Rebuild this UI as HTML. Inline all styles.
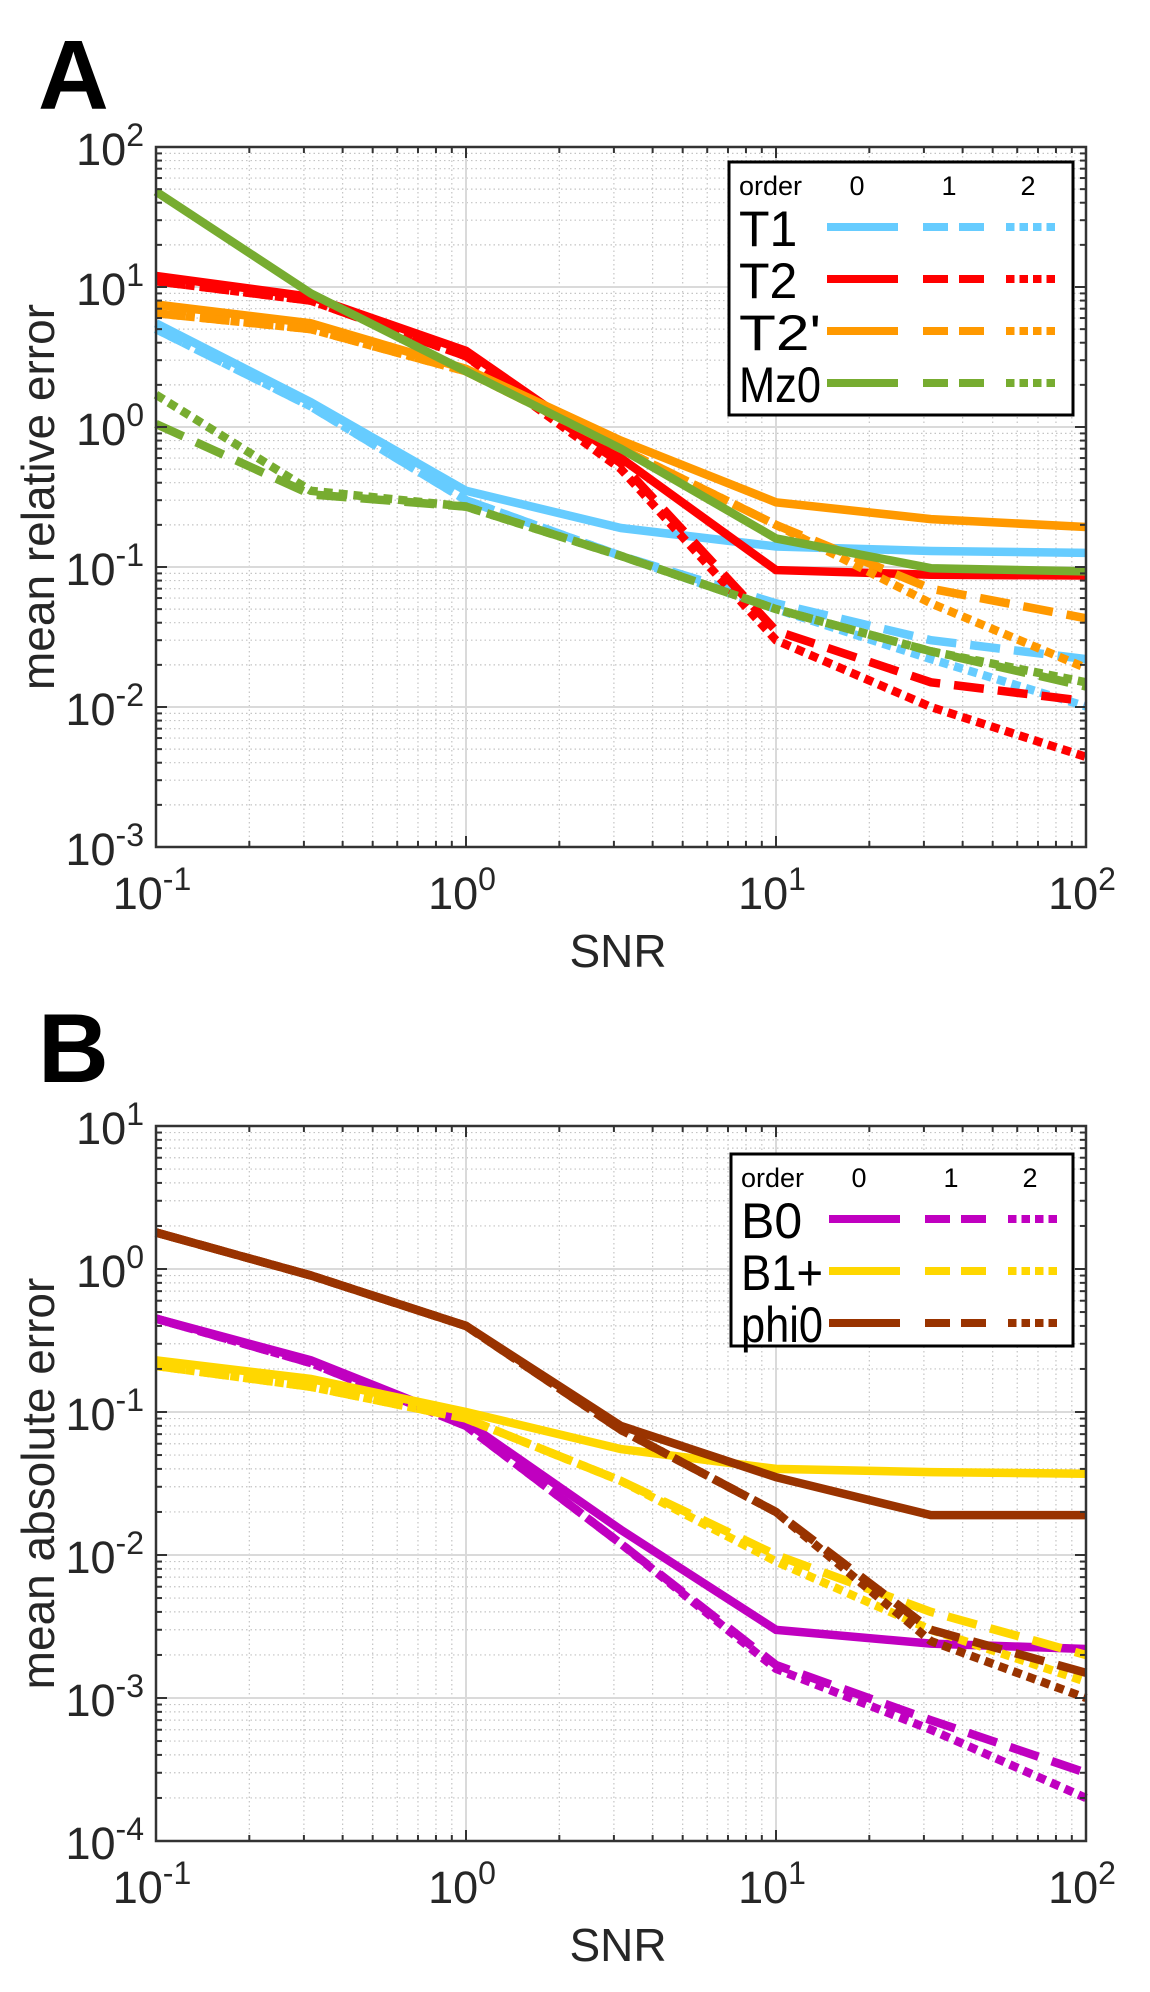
<!DOCTYPE html>
<html><head><meta charset="utf-8">
<style>
html,body{margin:0;padding:0;background:#fff;}
svg{display:block;font-family:"Liberation Sans",Arial,sans-serif;}
</style></head>
<body>
<svg id="fig" width="1150" height="1992" viewBox="0 0 1150 1992" xmlns="http://www.w3.org/2000/svg"></svg>
<script>
// ---- data ----
const snr = [0.1, 0.316, 1, 3.16, 10, 31.6, 100];
// Panel A series (order 0,1,2)
const T1_o0 = [5.5, 1.5, 0.35, 0.19, 0.14, 0.13, 0.126];
const T1_o1 = [5.0, 1.4, 0.30, 0.12, 0.055, 0.030, 0.022];
const T1_o2 = [5.0, 1.4, 0.30, 0.12, 0.050, 0.022, 0.0101];
const T2_o0 = [12, 8.5, 3.5, 0.6, 0.095, 0.088, 0.087];
const T2_o1 = [11, 8.0, 3.2, 0.55, 0.035, 0.015, 0.011];
const T2_o2 = [11, 8.0, 3.2, 0.50, 0.030, 0.010, 0.0044];
const T2p_o0 = [7.5, 5.5, 2.6, 0.8, 0.29, 0.22, 0.193];
const T2p_o1 = [6.5, 5.0, 2.5, 0.7, 0.20, 0.07, 0.043];
const T2p_o2 = [6.5, 5.0, 2.5, 0.7, 0.20, 0.055, 0.019];
const Mz0_o0 = [48, 9, 2.5, 0.7, 0.16, 0.098, 0.093];
const Mz0_o1 = [1.05, 0.33, 0.27, 0.12, 0.05, 0.025, 0.014];
const Mz0_o2 = [1.7, 0.35, 0.27, 0.12, 0.05, 0.025, 0.015];
// Panel B series
const B0_o0 = [0.45, 0.23, 0.085, 0.015, 0.003, 0.0024, 0.0022];
const B0_o1 = [0.45, 0.22, 0.08, 0.012, 0.0017, 0.0007, 0.0003];
const B0_o2 = [0.45, 0.22, 0.08, 0.012, 0.0016, 0.0006, 0.0002];
const B1_o0 = [0.23, 0.17, 0.10, 0.055, 0.040, 0.038, 0.037];
const B1_o1 = [0.21, 0.15, 0.09, 0.033, 0.010, 0.004, 0.002];
const B1_o2 = [0.21, 0.15, 0.09, 0.033, 0.009, 0.003, 0.0013];
const phi_o0 = [1.8, 0.9, 0.4, 0.08, 0.035, 0.019, 0.019];
const phi_o1 = [1.8, 0.9, 0.4, 0.075, 0.020, 0.003, 0.0015];
const phi_o2 = [1.8, 0.9, 0.4, 0.075, 0.020, 0.0025, 0.001];
const xTickExp = [-1, 0, 1, 2];
const yTickExpA = [2, 1, 0, -1, -2, -3];
const yTickExpB = [1, 0, -1, -2, -3, -4];
const seriesNamesA = ['T1', 'T2', "T2'", 'Mz0'];
const seriesNamesB = ['B0', 'B1+', 'phi0'];

const NS = 'http://www.w3.org/2000/svg';
const svg = document.getElementById('fig');
function el(tag, attrs, parent) {
  const e = document.createElementNS(NS, tag);
  for (const k in attrs) e.setAttribute(k, attrs[k]);
  (parent || svg).appendChild(e);
  return e;
}
const dashes = ['none', '30 14', '9 6'];
const LW = 8.5;

function panel(cfg) {
  const g = el('g', {});
  
  
  const L = cfg.L, R = cfg.R, T = cfg.T, B = cfg.B;
  const xmin = -1, xmax = 2, ymax = cfg.ymaxExp, ymin = cfg.yminExp;
  const xs = v => L + (Math.log10(v) - xmin) / (xmax - xmin) * (R - L);
  const ys = v => T + (ymax - Math.log10(v)) / (ymax - ymin) * (B - T);
  const grid = el('g', {}, g);
  
  
  for (let e = xmin; e < xmax; e++) for (let m = 2; m <= 9; m++) {
    const x = xs(m * Math.pow(10, e));
    el('line', {x1: x, x2: x, y1: T, y2: B, stroke: '#c4c4c4', 'stroke-width': 1.2, 'stroke-dasharray': '1.5 3'}, grid);
  }
  for (let e = ymin; e < ymax; e++) for (let m = 2; m <= 9; m++) {
    const y = ys(m * Math.pow(10, e));
    el('line', {x1: L, x2: R, y1: y, y2: y, stroke: '#c4c4c4', 'stroke-width': 1.2, 'stroke-dasharray': '1.5 3'}, grid);
  }
  for (let e = xmin + 1; e < xmax; e++) { const x = xs(Math.pow(10, e)); el('line', {x1: x, x2: x, y1: T, y2: B, stroke: '#dadada', 'stroke-width': 2}, grid); }
  for (let e = ymin + 1; e < ymax; e++) { const y = ys(Math.pow(10, e)); el('line', {x1: L, x2: R, y1: y, y2: y, stroke: '#dadada', 'stroke-width': 2}, grid); }
  cfg.series.forEach((s, si) => {
    s.data.forEach((arr, oi) => {
      const pts = arr.map((v, i) => xs(snr[i]).toFixed(1) + ',' + ys(v).toFixed(1)).join(' ');
      const p = el('polyline', {points: pts, fill: 'none', stroke: s.color, 'stroke-width': LW, 'stroke-dasharray': dashes[oi], 'stroke-linejoin': 'miter'}, g);
      
      
    });
  });
  const ax = el('g', {}, g);
  
  
  for (let e = xmin; e <= xmax; e++) {
    for (let m = 1; m <= 9; m++) {
      if (e === xmax && m > 1) break;
      const x = xs(m * Math.pow(10, e)); const len = m === 1 ? 11 : 6;
      el('line', {x1: x, x2: x, y1: B, y2: B - len, stroke: '#333', 'stroke-width': 2}, ax);
      el('line', {x1: x, x2: x, y1: T, y2: T + len, stroke: '#333', 'stroke-width': 2}, ax);
    }
  }
  for (let e = ymin; e <= ymax; e++) {
    for (let m = 1; m <= 9; m++) {
      if (e === ymax && m > 1) break;
      const y = ys(m * Math.pow(10, e)); const len = m === 1 ? 11 : 6;
      el('line', {x1: L, x2: L + len, y1: y, y2: y, stroke: '#333', 'stroke-width': 2}, ax);
      el('line', {x1: R, x2: R - len, y1: y, y2: y, stroke: '#333', 'stroke-width': 2}, ax);
    }
  }
  el('rect', {x: L, y: T, width: R - L, height: B - T, fill: 'none', stroke: '#333', 'stroke-width': 2.5}, ax);
  xTickExp.forEach(e => {
    const t = el('text', {x: xs(Math.pow(10, e)) - 4, y: B + 62, 'font-size': 45, fill: '#262626', 'text-anchor': 'middle'}, ax);
    
    
    t.appendChild(document.createTextNode('10'));
    const s = el('tspan', {dy: -19, 'font-size': 32}, t); s.textContent = String(e);
  });
  cfg.yTicks.forEach(e => {
    const t = el('text', {x: L - 12, y: ys(Math.pow(10, e)) + 18, 'font-size': 45, fill: '#262626', 'text-anchor': 'end'}, ax);
    
    
    t.appendChild(document.createTextNode('10'));
    const s = el('tspan', {dy: -19, 'font-size': 32}, t); s.textContent = String(e);
  });
  const xl = el('text', {x: (L + R) / 2 - 3, y: B + 120, 'font-size': 46, fill: '#262626', 'text-anchor': 'middle'}, g);
  
  
  xl.textContent = 'SNR';
  const cy = (T + B) / 2;
  const yl = el('text', {x: 54, y: cy, 'font-size': 46, fill: '#262626', 'text-anchor': 'middle', transform: 'rotate(-90 54 ' + cy + ')'}, g);
  
  
  yl.textContent = cfg.ylabel;
  const pl = el('text', {x: 38, y: cfg.letterY, 'font-size': 98, 'font-weight': 'bold', fill: '#000'}, g);
  
  
  pl.textContent = cfg.letter;
  const lg = el('g', {}, g);
  
  
  const lx = cfg.leg.x, ly = cfg.leg.y;
  el('rect', {x: lx, y: ly, width: cfg.leg.w, height: cfg.leg.h, fill: '#fff', stroke: '#000', 'stroke-width': 3}, lg);
  const hy = ly + 33;
  const h = el('text', {x: lx + 10, y: hy, 'font-size': 27, fill: '#000'}, lg); h.textContent = 'order';
  [['0', lx + 128], ['1', lx + 220], ['2', lx + 299]].forEach(([s, x]) => {
    const t = el('text', {x: x, y: hy, 'font-size': 27, fill: '#000', 'text-anchor': 'middle'}, lg); t.textContent = s;
  });
  cfg.series.forEach((s, i) => {
    const ry = ly + 65 + i * cfg.leg.step;
    const e = el('g', {}, lg);
    
    
    const t = el('text', {x: lx + 10, y: ry + 19, 'font-size': 50, fill: '#000'}, e);
    t.textContent = s.label;
    if (s.label.length >= 3) { t.setAttribute('textLength', 82); t.setAttribute('lengthAdjust', 'spacingAndGlyphs'); }
    el('line', {x1: lx + 98, x2: lx + 169, y1: ry, y2: ry, stroke: s.color, 'stroke-width': 8}, e);
    el('line', {x1: lx + 194, x2: lx + 256, y1: ry, y2: ry, stroke: s.color, 'stroke-width': 8, 'stroke-dasharray': '25 11'}, e);
    el('line', {x1: lx + 277, x2: lx + 326, y1: ry, y2: ry, stroke: s.color, 'stroke-width': 8, 'stroke-dasharray': '8.5 5'}, e);
  });
}

panel({name: 'panel-a-chart', letter: 'A', letterY: 109, L: 156, R: 1086, T: 147, B: 847, ymaxExp: 2, yminExp: -3,
  yTicks: yTickExpA, ylabel: 'mean relative error',
  leg: {x: 729, y: 162, w: 344, h: 253, step: 52},
  series: [
    {key: 'T1', label: seriesNamesA[0], color: '#66ccff', data: [T1_o0, T1_o1, T1_o2]},
    {key: 'T2', label: seriesNamesA[1], color: '#ff0000', data: [T2_o0, T2_o1, T2_o2]},
    {key: 'T2prime', label: seriesNamesA[2], color: '#ff9900', data: [T2p_o0, T2p_o1, T2p_o2]},
    {key: 'Mz0', label: seriesNamesA[3], color: '#77ac30', data: [Mz0_o0, Mz0_o1, Mz0_o2]}
  ]});
panel({name: 'panel-b-chart', letter: 'B', letterY: 1082, L: 156, R: 1086, T: 1126, B: 1841, ymaxExp: 1, yminExp: -4,
  yTicks: yTickExpB, ylabel: 'mean absolute error',
  leg: {x: 731, y: 1154, w: 342, h: 192, step: 52},
  series: [
    {key: 'B0', label: seriesNamesB[0], color: '#c000c0', data: [B0_o0, B0_o1, B0_o2]},
    {key: 'B1plus', label: seriesNamesB[1], color: '#ffd700', data: [B1_o0, B1_o1, B1_o2]},
    {key: 'phi0', label: seriesNamesB[2], color: '#993300', data: [phi_o0, phi_o1, phi_o2]}
  ]});
</script>
</body></html>
